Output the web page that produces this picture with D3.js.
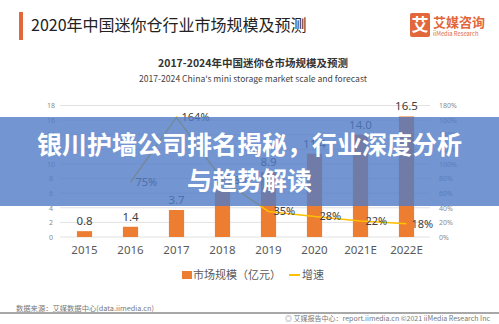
<!DOCTYPE html>
<html><head><meta charset="utf-8">
<script src="https://cdn.jsdelivr.net/npm/d3@7/dist/d3.min.js"></script>
<style>
html,body{margin:0;padding:0;background:#fff;}
svg{display:block;font-family:"Noto Sans CJK SC","Noto Sans",sans-serif;}
</style></head>
<body>
<svg id="c" width="499" height="324"></svg>
<script>
const categories = ["2015","2016","2017","2018","2019","2020","2021E","2022E"];
const marketSize = [0.8, 1.4, 3.7, 6.6, 8.9, 11.4, 14.0, 16.5];
const growth = [null, 75, 164, 78, 35, 28, 22, 18];
const leftTicks = [0,2,4,6,8,10,12,14,16,18];
const rightTicks = [0,20,40,60,80,100,120,140,160,180];

const svg = d3.select("#c");
const orange = "#ED7D31", yellow = "#FFC000", brand = "#E2673B";

// header
svg.append("rect").attr("x",19).attr("y",12).attr("width",4).attr("height",28).attr("fill",brand);
svg.append("text").attr("x",31).attr("y",31).attr("font-size",16).attr("fill","#222")
  .text("2020年中国迷你仓行业市场规模及预测");
// logo
svg.append("rect").attr("x",410).attr("y",13).attr("width",20).attr("height",24).attr("rx",2).attr("fill",brand);
svg.append("text").attr("x",420).attr("y",31).attr("text-anchor","middle").attr("font-size",17)
  .attr("font-weight","bold").attr("fill","#fff").text("艾");
svg.append("text").attr("x",433).attr("y",27).attr("font-size",13).attr("font-weight","bold").attr("fill",brand).text("艾媒咨询");
svg.append("text").attr("x",433).attr("y",36).attr("font-size",5.8).attr("fill",brand).text("iiMedia Research");

// chart titles
svg.append("text").attr("x",253).attr("y",67).attr("text-anchor","middle").attr("font-size",10.5)
  .attr("font-weight","bold").attr("fill","#333").text("2017-2024年中国迷你仓市场规模及预测");
svg.append("text").attr("x",253).attr("y",82).attr("text-anchor","middle").attr("font-size",8.6)
  .attr("fill","#444").text("2017-2024 China's mini storage market scale and forecast");

// scales
const x = d3.scaleBand().domain(categories).range([61.5,429.5]).paddingInner(0.67).paddingOuter(0.335);
const yL = d3.scaleLinear().domain([0,18]).range([237,105.5]);
const yR = d3.scaleLinear().domain([0,180]).range([237,105.5]);

// gridlines
svg.append("g").selectAll("line").data(leftTicks).join("line")
  .attr("x1",60).attr("x2",430).attr("y1",d=>yL(d)).attr("y2",d=>yL(d))
  .attr("stroke","#e2e2e2").attr("stroke-width",1);

// left axis
const gl = svg.append("g").attr("transform","translate(53,0)")
  .call(d3.axisLeft(yL).tickValues(leftTicks).tickSize(0).tickPadding(0));
gl.select(".domain").remove();
gl.selectAll("text").attr("font-size",7).attr("fill","#8a8a8a").attr("text-anchor","middle").attr("dx",-2)
  .style("font-family","'Noto Sans','Noto Sans CJK SC',sans-serif");
// right axis
const gr = svg.append("g").attr("transform","translate(439,0)")
  .call(d3.axisRight(yR).tickValues(rightTicks).tickSize(0).tickPadding(0).tickFormat(d=>d+"%"));
gr.select(".domain").remove();
gr.selectAll("text").attr("font-size",7).attr("fill","#8a8a8a")
  .style("font-family","'Noto Sans','Noto Sans CJK SC',sans-serif");

// bars
svg.append("g").selectAll("rect").data(marketSize).join("rect")
  .attr("x",(d,i)=>x(categories[i])).attr("width",x.bandwidth())
  .attr("y",d=>yL(d)).attr("height",d=>yL(0)-yL(d)).attr("fill",orange);
svg.append("g").selectAll("text").data(marketSize).join("text")
  .attr("x",(d,i)=>x(categories[i])+x.bandwidth()/2).attr("y",d=>yL(d)-6)
  .attr("text-anchor","middle").attr("font-size",11.5).attr("fill","#404040")
  .style("font-family","'Noto Sans',sans-serif")
  .text(d=>d.toFixed(1));

// x axis labels
const gx = svg.append("g").attr("transform","translate(0,244)")
  .call(d3.axisBottom(x).tickSize(0).tickPadding(0));
gx.select(".domain").remove();
gx.selectAll("text").attr("font-size",11.5).attr("fill","#595959").attr("dy","0.9em")
  .style("font-family","'Noto Sans',sans-serif");

// growth line
const gData = categories.map((c,i)=>({c, g:growth[i]})).filter(d=>d.g!==null);
const line = d3.line().x(d=>x(d.c)+x.bandwidth()/2).y(d=>yR(d.g));
svg.append("path").datum(gData).attr("d",line).attr("fill","none").attr("stroke",yellow).attr("stroke-width",1.5);
svg.append("g").selectAll("text").data(gData).join("text")
  .attr("x",d=>x(d.c)+x.bandwidth()/2+5).attr("y",d=>yR(d.g)+1)
  .attr("dominant-baseline","middle").attr("font-size",11).attr("fill","#404040")
  .style("font-family","'Noto Sans',sans-serif")
  .text(d=>d.g+"%");

// legend
svg.append("rect").attr("x",182).attr("y",271).attr("width",10).attr("height",8).attr("fill",orange);
svg.append("text").attr("x",193).attr("y",279).attr("font-size",11).attr("fill","#595959").text("市场规模（亿元）");
svg.append("line").attr("x1",289).attr("x2",300).attr("y1",275).attr("y2",275).attr("stroke",yellow).attr("stroke-width",2);
svg.append("text").attr("x",302).attr("y",279).attr("font-size",11).attr("fill","#595959").text("增速");

// footer
svg.append("text").attr("x",16).attr("y",311).attr("font-size",7.3).attr("fill","#777").text("数据来源：艾媒数据中心(data.iimedia.cn)");
svg.append("rect").attr("x",0).attr("y",312).attr("width",499).attr("height",2).attr("fill","#a8a8a8");
svg.append("text").attr("x",490).attr("y",321).attr("text-anchor","end").attr("font-size",7).attr("fill","#777")
  .text("◎ 艾媒报告中心：report.iimedia.cn   ©2021  iiMedia Research  Inc");

// overlay banner
svg.append("rect").attr("x",0).attr("y",117).attr("width",499).attr("height",89)
  .attr("fill","rgb(80,122,198)").attr("fill-opacity",0.8);
svg.append("text").attr("x",249.5).attr("y",154).attr("text-anchor","middle").attr("font-size",25)
  .attr("font-weight","bold").attr("fill","#fff").text("银川护墙公司排名揭秘，行业深度分析");
svg.append("text").attr("x",249.5).attr("y",190).attr("text-anchor","middle").attr("font-size",25)
  .attr("font-weight","bold").attr("fill","#fff").text("与趋势解读");
</script>
</body></html>
